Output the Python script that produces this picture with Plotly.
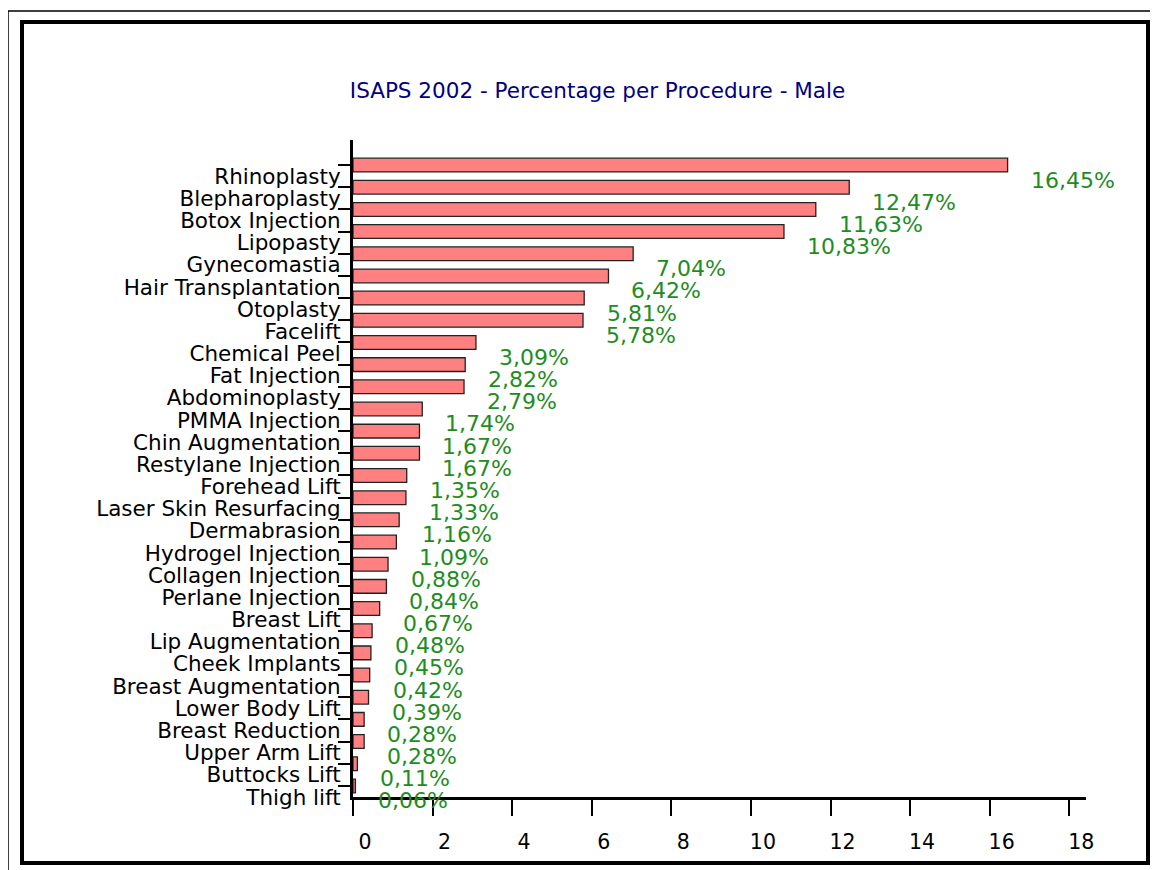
import plotly.graph_objects as go

categories = ["Rhinoplasty", "Blepharoplasty", "Botox Injection", "Lipopasty", "Gynecomastia",
              "Hair Transplantation", "Otoplasty", "Facelift", "Chemical Peel", "Fat Injection",
              "Abdominoplasty", "PMMA Injection", "Chin Augmentation", "Restylane Injection",
              "Forehead Lift", "Laser Skin Resurfacing", "Dermabrasion", "Hydrogel Injection",
              "Collagen Injection", "Perlane Injection", "Breast Lift", "Lip Augmentation",
              "Cheek Implants", "Breast Augmentation", "Lower Body Lift", "Breast Reduction",
              "Upper Arm Lift", "Buttocks Lift", "Thigh lift"]
values = [16.45, 12.47, 11.63, 10.83, 7.04, 6.42, 5.81, 5.78, 3.09, 2.82, 2.79, 1.74, 1.67, 1.67,
          1.35, 1.33, 1.16, 1.09, 0.88, 0.84, 0.67, 0.48, 0.45, 0.42, 0.39, 0.28, 0.28, 0.11, 0.06]
x_ticks = [0, 2, 4, 6, 8, 10, 12, 14, 16, 18]

FONT = "Verdana, DejaVu Sans, sans-serif"
OFF = 8  # page body margin
W, H = 1158 - OFF, 870 - OFF
L, R, T, B = 353 - OFF, 1086 - OFF, 140 - OFF, 797 - OFF

pos = list(range(len(categories)))
labels = [f"{v:.2f}".replace(".", ",") + "%" for v in values]

fig = go.Figure()
fig.add_trace(go.Bar(
    x=values, y=pos, orientation="h", width=0.62,
    marker=dict(color="#FF8080", line=dict(color="#222222", width=1.3)),
    hoverinfo="skip",
))

for p, v, t in zip(pos, values, labels):
    fig.add_annotation(x=v, y=p, text=t, showarrow=False, xanchor="left", yanchor="middle",
                       xshift=21, yshift=-15, font=dict(family=FONT, size=22, color="#1f8c1f"))

def px(x):
    return (x - OFF - L) / (R - L)

def py(y):
    return (B - (y - OFF)) / (B - T)

shapes = [
    dict(type="rect", xref="paper", yref="paper", x0=px(8), x1=px(1175), y0=py(11), y1=py(890),
         line=dict(color="black", width=1.5)),
    dict(type="rect", xref="paper", yref="paper", x0=px(22), x1=px(1148), y0=py(22), y1=py(863),
         line=dict(color="black", width=4)),
]

fig.update_layout(
    width=W, height=H,
    margin=dict(l=L, r=W - R, t=T, b=H - B, pad=0),
    paper_bgcolor="white", plot_bgcolor="white",
    showlegend=False,
    shapes=shapes,
    title=dict(text="ISAPS 2002 - Percentage per Procedure - Male", x=(597.5 - OFF) / W,
               xanchor="center", y=1 - (90 - OFF) / H, yanchor="middle",
               font=dict(family=FONT, size=21.5, color="#000080")),
    xaxis=dict(range=[0, 18.42], showgrid=False, zeroline=False,
               showline=True, linecolor="black", linewidth=3,
               tickvals=[v + 0.3 for v in x_ticks], ticktext=[str(v) for v in x_ticks],
               ticks="", ticklabelstandoff=24,
               tickfont=dict(family=FONT, size=20.5, color="black"),
               minor=dict(tickvals=x_ticks, ticks="outside", ticklen=16, tickwidth=2,
                          tickcolor="black", showgrid=False)),
    yaxis=dict(range=[28.5, -1.13], showgrid=False, zeroline=False,
               showline=True, linecolor="black", linewidth=3,
               tickvals=[p + 0.5 for p in pos], ticktext=categories,
               ticks="", ticklabelstandoff=5,
               tickfont=dict(family=FONT, size=21.5, color="black"),
               minor=dict(tickvals=pos, ticks="outside", ticklen=12, tickwidth=2,
                          tickcolor="black", showgrid=False)),
)

fig.write_html("out.html")
